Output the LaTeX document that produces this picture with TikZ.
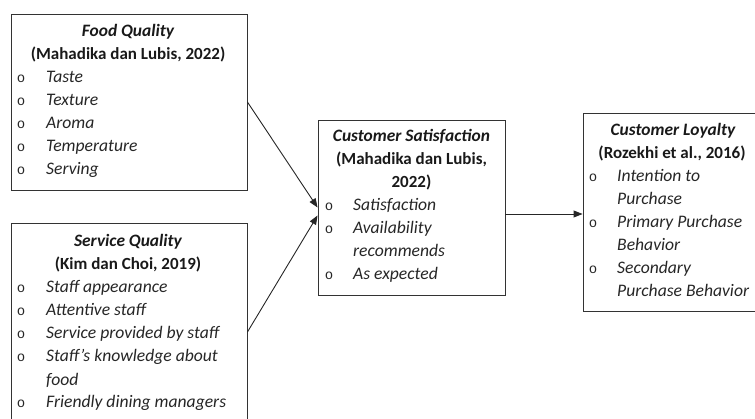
\documentclass[tikz,border=0pt]{standalone}
\usepackage{fontspec}
\setmainfont{Carlito}
\newfontfamily\bulfont{Liberation Mono}
\usetikzlibrary{arrows.meta}
\begin{document}
\begin{tikzpicture}[x=1pt,y=-1pt,
  box/.style={draw=black!80, line width=0.9pt, inner sep=0pt},
  hd/.style={anchor=base, inner sep=0pt, text=black!90, font=\fontsize{17.4}{23}\selectfont\bfseries\itshape},
  cit/.style={anchor=base, inner sep=0pt, text=black!90, font=\fontsize{17}{23}\selectfont\bfseries},
  bul/.style={anchor=base, inner sep=0pt, text=black!85, font=\fontsize{14}{23}\selectfont\bulfont},
  itm/.style={anchor=base west, inner sep=0pt, text=black!85, font=\fontsize{17.6}{23}\selectfont\itshape},
  arr/.style={draw=black!85, line width=0.9pt, -{Triangle[length=9pt,width=7pt]}}]
\useasboundingbox (0,0) rectangle (755,419);
% boxes
\node[box, minimum width=236pt, minimum height=176pt] (food) at (129,102) {};
\node[box, minimum width=236pt, minimum height=218pt] (serv) at (129,332) {};
\node[box, minimum width=187pt, minimum height=175pt] (sat) at (411.5,207.5) {};
\node[box, minimum width=182pt, minimum height=198pt] (loy) at (674,212) {};
% food quality
\node[hd] (fq-h) at (128,37) {Food Quality};
\node[cit] (fq-c) at (128,60) {(Mahadika dan Lubis, 2022)};
\node[bul] (fq-b1) at (21,83) {o};  \node[itm] (fq-i1) at (46,83) {Taste};
\node[bul] (fq-b2) at (21,106) {o}; \node[itm] (fq-i2) at (46,106) {Texture};
\node[bul] (fq-b3) at (21,129) {o}; \node[itm] (fq-i3) at (46,129) {Aroma};
\node[bul] (fq-b4) at (21,152) {o}; \node[itm] (fq-i4) at (46,152) {Temperature};
\node[bul] (fq-b5) at (21,175) {o}; \node[itm] (fq-i5) at (46,175) {Serving};
% service quality
\node[hd] (sq-h) at (128,247) {Service Quality};
\node[cit] (sq-c) at (128,270) {(Kim dan Choi, 2019)};
\node[bul] (sq-b1) at (21,293) {o}; \node[itm] (sq-i1) at (46,293) {Staff appearance};
\node[bul] (sq-b2) at (21,316) {o}; \node[itm] (sq-i2) at (46,316) {Attentive staff};
\node[bul] (sq-b3) at (21,339) {o}; \node[itm] (sq-i3) at (46,339) {Service provided by staff};
\node[bul] (sq-b4) at (21,362) {o}; \node[itm] (sq-i4) at (46,362) {Staff’s knowledge about};
\node[itm] (sq-i4b) at (46,385) {food};
\node[bul] (sq-b5) at (21,408) {o}; \node[itm] (sq-i5) at (46,408) {Friendly dining managers};
% customer satisfaction
\node[hd] (cs-h) at (411.5,142) {Customer Satisfaction};
\node[cit] (cs-c1) at (411.5,165) {(Mahadika dan Lubis,};
\node[cit] (cs-c2) at (411.5,188) {2022)};
\node[bul] (cs-b1) at (329,211) {o}; \node[itm] (cs-i1) at (353,211) {Satisfaction};
\node[bul] (cs-b2) at (329,234) {o}; \node[itm] (cs-i2) at (353,234) {Availability};
\node[itm] (cs-i2b) at (353,257) {recommends};
\node[bul] (cs-b3) at (329,280) {o}; \node[itm] (cs-i3) at (353,280) {As expected};
% customer loyalty
\node[hd] (cl-h) at (673,136) {Customer Loyalty};
\node[cit] (cl-c) at (672,159) {(Rozekhi et al., 2016)};
\node[bul] (cl-b1) at (593,182) {o}; \node[itm] (cl-i1) at (617,182) {Intention to};
\node[itm] (cl-i1b) at (617,205) {Purchase};
\node[bul] (cl-b2) at (593,228) {o}; \node[itm] (cl-i2) at (617,228) {Primary Purchase};
\node[itm] (cl-i2b) at (617,251) {Behavior};
\node[bul] (cl-b3) at (593,274) {o}; \node[itm] (cl-i3) at (617,274) {Secondary};
\node[itm] (cl-i3b) at (617,297) {Purchase Behavior};
% arrows
\draw[arr] (food.east) -- (sat.west);
\draw[arr] (serv.east) -- ([yshift=-8pt]sat.west);
\draw[arr] ([yshift=-6.5pt]sat.east) -- ([yshift=-2pt]loy.west);
\end{tikzpicture}
\end{document}
